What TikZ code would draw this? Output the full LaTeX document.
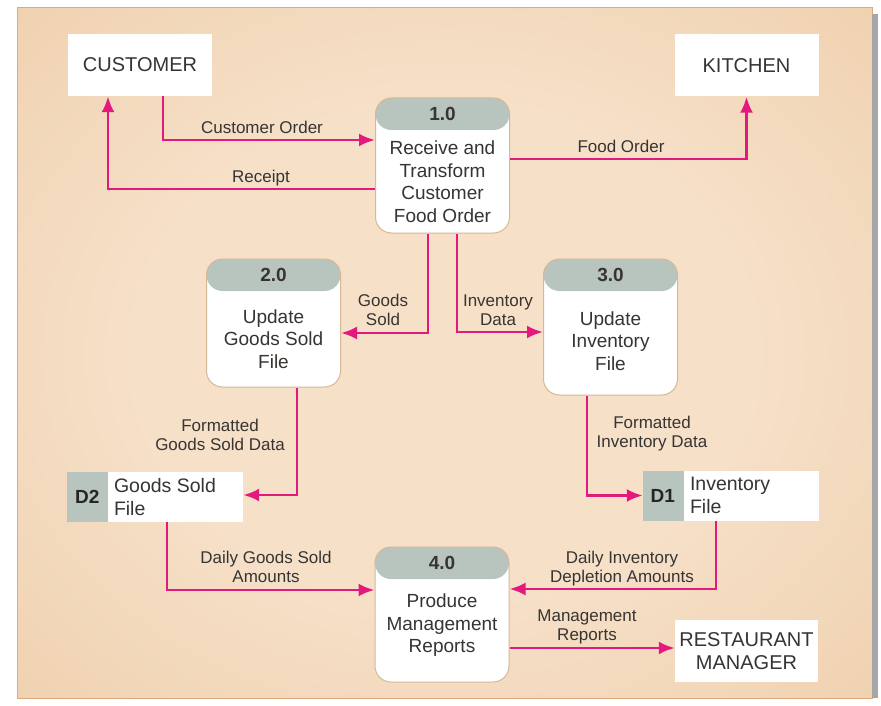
\documentclass[tikz,border=0pt]{standalone}
\usepackage{fontspec}
\setmainfont{Liberation Sans}
\usetikzlibrary{arrows.meta,calc,positioning}

\definecolor{flowpink}{RGB}{228,25,125}
\definecolor{hdrgray}{RGB}{184,196,190}
\definecolor{txtgray}{RGB}{55,52,50}
\definecolor{panelin}{RGB}{246,224,200}
\definecolor{panelout}{RGB}{233,194,150}
\definecolor{panelrim}{RGB}{222,170,122}
\definecolor{procrim}{RGB}{214,184,150}

\pgfdeclareradialshading{panelglow}{\pgfpoint{0bp}{0bp}}{%
  color(0bp)=(panelin); color(18bp)=(panelin); color(55bp)=(panelout); color(75bp)=(panelout)}

\tikzset{
  flow/.style={draw=flowpink, line width=2.8pt, -{Latex[length=16pt,width=13pt]}},
  ext/.style={fill=white, minimum width=144pt, minimum height=62pt, inner sep=0pt,
    align=center, text=txtgray, font=\fontsize{20}{23}\selectfont},
  proc/.style={draw=procrim, line width=1pt, fill=white, rounded corners=16pt,
    minimum width=134pt, minimum height=#1, inner sep=0pt,
    path picture={\fill[hdrgray] (path picture bounding box.north west)
      rectangle ([yshift=-32pt]path picture bounding box.north east);}},
  procid/.style={text=txtgray, font=\fontsize{19}{22}\selectfont\bfseries, inner sep=0pt},
  proctext/.style={align=center, text=txtgray, font=\fontsize{19}{22.5}\selectfont, inner sep=0pt},
  store/.style={fill=white, minimum width=176pt, minimum height=50pt, inner sep=0pt,
    path picture={\fill[hdrgray] (path picture bounding box.south west)
      rectangle ([xshift=41pt]path picture bounding box.north west);}},
  storeid/.style={text=black!85, font=\fontsize{19}{22}\selectfont\bfseries, inner sep=0pt},
  storetext/.style={anchor=west, align=left, text=txtgray, font=\fontsize{19.5}{23}\selectfont, inner sep=0pt},
  lbl/.style={align=center, text=txtgray, font=\fontsize{17}{19}\selectfont, inner sep=0pt}
}

\begin{document}
\begin{tikzpicture}[x=1pt,y=-1pt]
  \useasboundingbox (0,0) rectangle (881,706);
  \fill[white] (0,0) rectangle (881,706);

  % panel
  \shade[shading=panelglow] (17,8) rectangle (872,698);
  \draw[panelrim, line width=1pt] (17,8) rectangle (872,698);
  \fill[black!35] (872,14) rectangle (878,698);

  % external entities
  \node[ext] (cust) at (140,65) {CUSTOMER};
  \node[ext] (kit) at (746.5,65.5) {KITCHEN};
  \node[ext, minimum width=143pt] (mgr) at (746.5,651) {RESTAURANT\\MANAGER};

  % processes
  \node[proc=135pt] (p1) at (442.5,165.5) {};
  \node[procid] (p1id) at ($(p1.north)+(0,16)$) {1.0};
  \node[proctext] (p1txt) at ($(p1.center)+(0,16)$) {Receive and\\Transform\\Customer\\Food Order};

  \node[proc=128pt] (p2) at (273.5,323) {};
  \node[procid] (p2id) at ($(p2.north)+(0,16)$) {2.0};
  \node[proctext] (p2txt) at ($(p2.center)+(0,16)$) {Update\\Goods Sold\\File};

  \node[proc=136pt] (p3) at (610.5,327) {};
  \node[procid] (p3id) at ($(p3.north)+(0,16)$) {3.0};
  \node[proctext] (p3txt) at ($(p3.center)+(0,14)$) {Update\\Inventory\\File};

  \node[proc=135pt] (p4) at (442,614.5) {};
  \node[procid] (p4id) at ($(p4.north)+(0,16)$) {4.0};
  \node[proctext] (p4txt) at ($(p4.center)+(0,11)$) {Produce\\Management\\Reports};

  % data stores
  \node[store] (d2) at (155,497) {};
  \node[storeid] (d2id) at ($(d2.west)+(20.5,0)$) {D2};
  \node[storetext] (d2txt) at ($(d2.west)+(47,0)$) {Goods Sold\\File};

  \node[store] (d1) at (731,495.5) {};
  \node[storeid] (d1id) at ($(d1.west)+(20,0)$) {D1};
  \node[storetext] (d1txt) at ($(d1.west)+(47,0)$) {Inventory\\File};

  % flows
  \draw[flow] ($(cust.south)+(23,0)$) |- ($(p1.west)+(0,-25.5)$);
  \draw[flow] ($(p1.west)+(0,23.5)$) -| ($(cust.south)+(-32,0)$);
  \draw[flow] ($(p1.east)+(0,-6.5)$) -| (kit.south);
  \draw[flow] ($(p1.south)+(-14.5,0)$) |- ($(p2.east)+(0,10)$);
  \draw[flow] ($(p1.south)+(14.5,0)$) |- ($(p3.west)+(0,5)$);
  \draw[flow] ($(p2.south)+(23.5,0)$) |- ($(d2.east)+(0,-2)$);
  \draw[flow] ($(p3.south)+(-23.5,0)$) |- (d1.west);
  \draw[flow] ($(d2.south)+(12,0)$) |- ($(p4.west)+(0,-24.5)$);
  \draw[flow] ($(d1.south)+(-15,0)$) |- ($(p4.east)+(0,-25.5)$);
  \draw[flow] ($(p4.east)+(0,33.5)$) -- ($(mgr.west)+(0,-3)$);

  % flow labels
  \node[lbl] (lcord) at (262,127) {Customer Order};
  \node[lbl] (lrcpt) at (261,178) {Receipt};
  \node[lbl] (lfood) at (621,146) {Food Order};
  \node[lbl] (lgs) at (383,310) {Goods\\Sold};
  \node[lbl] (linv) at (498,310) {Inventory\\Data};
  \node[lbl] (lfgs) at (220,435) {Formatted\\Goods Sold Data};
  \node[lbl] (lfinv) at (652,434) {Formatted\\Inventory Data};
  \node[lbl] (ldgs) at (266,567) {Daily Goods Sold\\Amounts};
  \node[lbl] (ldinv) at (622,569) {Daily Inventory\\Depletion Amounts};
  \node[lbl] (lmgmt) at (587,627) {Management\\Reports};
\end{tikzpicture}
\end{document}
